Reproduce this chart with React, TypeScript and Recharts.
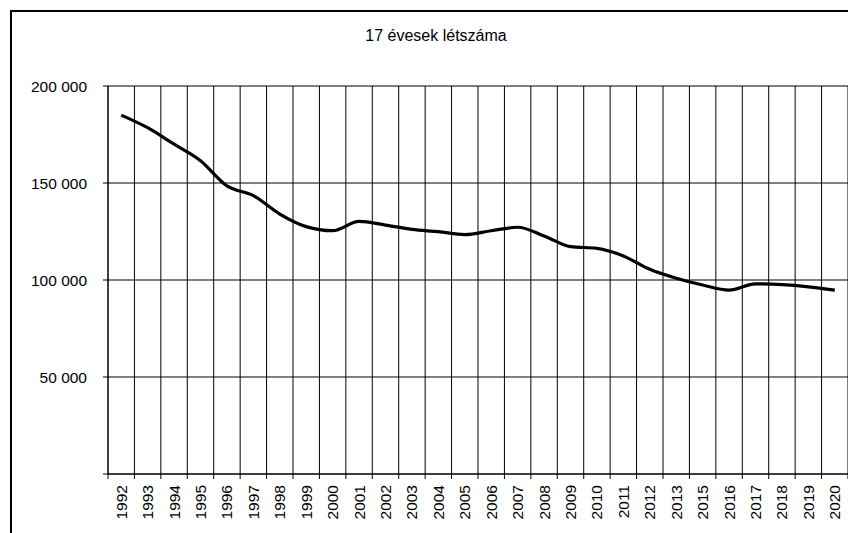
import React from 'react';
import { ComposedChart, Line, XAxis, YAxis, CartesianGrid } from 'recharts';

const years = [
  '1992', '1993', '1994', '1995', '1996', '1997', '1998', '1999', '2000', '2001',
  '2002', '2003', '2004', '2005', '2006', '2007', '2008', '2009', '2010', '2011',
  '2012', '2013', '2015', '2016', '2017', '2018', '2019', '2020',
];

const values = [
  185000, 178500, 170000, 161500, 148500, 143500, 134000, 127500, 125400, 130200,
  128300, 126100, 124900, 123400, 125400, 127200, 122700, 117200, 116300, 112400,
  105500, 100900, 97400, 94800, 98000, 97600, 96500, 94800,
];

const yTicks = [0, 50000, 100000, 150000, 200000];

const title = '17 évesek létszáma';

const data = years.map((y, i) => ({ year: y, idx: i, value: values[i] }));
const gridTicks = Array.from({ length: years.length + 1 }, (_, i) => i);

const FONT = '"Liberation Sans", Arial, sans-serif';

const fmt = (v: number) =>
  v === 0 ? '' : String(v).replace(/\B(?=(\d{3})+(?!\d))/g, ' ');

const YearTick = (props: any) => {
  const { x, y, payload } = props;
  return (
    <text
      x={x}
      y={y}
      transform={`rotate(-90, ${x}, ${y})`}
      textAnchor="end"
      dominantBaseline="central"
      fontFamily={FONT}
      fontSize={15.5}
      fill="#000"
    >
      {payload.value}
    </text>
  );
};

const EmptyTick = () => <g />;

export default function App() {
  return (
    <div
      style={{
        position: 'absolute',
        left: 0,
        top: 0,
        width: 848,
        height: 533,
        overflow: 'hidden',
        background: '#fff',
      }}
    >
      <div
        style={{
          position: 'absolute',
          left: 10,
          top: 10,
          width: 900,
          height: 600,
          border: '2px solid #000',
        }}
      />
      <div
        style={{
          position: 'absolute',
          left: 0,
          top: 27,
          width: 872,
          textAlign: 'center',
          fontFamily: FONT,
          fontSize: 16,
          color: '#000',
        }}
      >
        {title}
      </div>
      <div style={{ position: 'absolute', left: 0, top: 0 }}>
        <ComposedChart
          width={848}
          height={533}
          data={data}
          margin={{ top: 86, right: 0, bottom: 0, left: 0 }}
        >
          <CartesianGrid
            xAxisId="a_grid"
            stroke="#000"
            strokeWidth={1}
          />
          <XAxis
            xAxisId="a_grid"
            dataKey="idx"
            type="number"
            domain={[0, years.length]}
            ticks={gridTicks}
            interval={0}
            tick={EmptyTick}
            tickSize={5}
            tickLine={{ stroke: '#000' }}
            axisLine={{ stroke: '#000' }}
            height={6}
          />
          <XAxis
            xAxisId="b_cat"
            dataKey="year"
            type="category"
            scale="band"
            interval={0}
            axisLine={false}
            tickLine={false}
            tickSize={0}
            tickMargin={5}
            tick={<YearTick />}
            height={53}
          />
          <YAxis
            domain={[0, 200000]}
            ticks={yTicks}
            interval={0}
            width={108}
            tickFormatter={fmt}
            tickSize={5}
            tickMargin={16}
            tickLine={{ stroke: '#000' }}
            axisLine={{ stroke: '#000' }}
            tick={{ fontFamily: FONT, fontSize: 15.5, fill: '#000' }}
          />
          <Line
            xAxisId="b_cat"
            dataKey="value"
            type="monotone"
            stroke="#000"
            strokeWidth={3.2}
            dot={false}
            activeDot={false}
            isAnimationActive={false}
          />
        </ComposedChart>
      </div>
    </div>
  );
}
